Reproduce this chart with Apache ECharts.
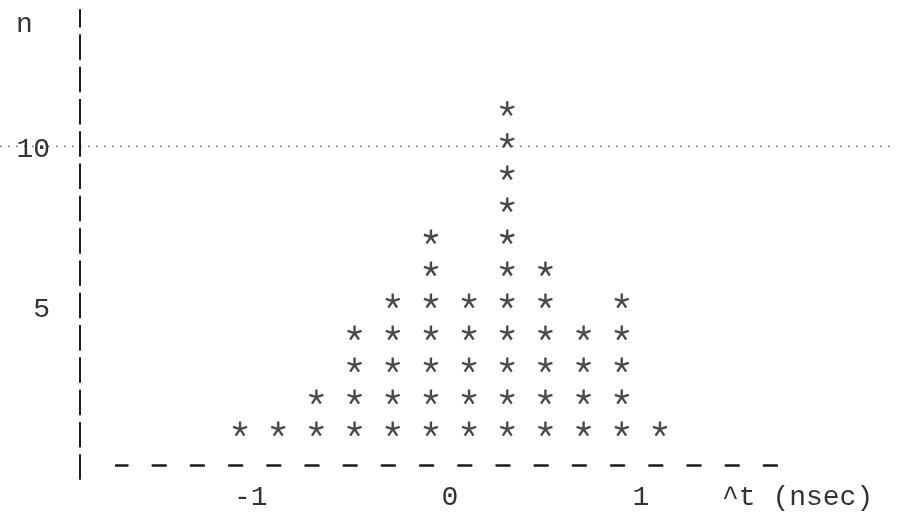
<!DOCTYPE html>
<html>
<head>
<meta charset="utf-8">
<script src="https://cdn.jsdelivr.net/npm/echarts@6/dist/echarts.min.js"></script>
<style>
  html, body { margin: 0; padding: 0; background: #fff; }
  #main { width: 900px; height: 512px; }
</style>
</head>
<body>
<div id="main"></div>
<script>
// bin centres (nsec) and the number of events in each bin
var binCenters = [-1.1, -0.9, -0.7, -0.5, -0.3, -0.1, 0.1, 0.3, 0.5, 0.7, 0.9, 1.1];
var counts = [1, 1, 2, 4, 5, 7, 5, 11, 6, 4, 5, 1];
var xTicks = [-1, 0, 1];
var yTicks = [5, 10];

var font = 'Liberation Mono';
var ink = '#1c1c1c';

// one star per event, stacked up each bin like the typed plot
var points = [];
binCenters.forEach(function (x, i) {
  for (var k = 1; k <= counts[i]; k++) points.push([x, k]);
});

// typewriter asterisk: five arms
var star = 'path://M0,-10L0,0M-9.5,-3L0,0M9.5,-3L0,0M-6,8.5L0,0M6,8.5L0,0';

var chart = echarts.init(document.getElementById('main'));
var option = {
  backgroundColor: '#fff',
  animation: false,
  title: {
    text: 'n', left: 11, top: 6,
    textStyle: { fontFamily: font, fontSize: 28, fontWeight: 'normal', color: '#333' }
  },
  grid: { left: 116, right: 116, top: 10, bottom: 29 },
  xAxis: {
    type: 'value', min: -1.75, max: 1.75,
    offset: -14,
    axisLine: { onZero: false, lineStyle: { color: ink, width: 2.5, type: [13, 25.2], dashOffset: 1.5 } },
    axisTick: { show: false },
    splitLine: { show: false },
    axisLabel: {
      customValues: xTicks,
      formatter: function (v) { return v < 0 ? v + ' ' : '' + v; },
      margin: 19, fontFamily: font, fontSize: 28, color: '#333'
    },
    name: '^t (nsec)',
    nameLocation: 'end',
    nameGap: -62,
    nameTextStyle: { fontFamily: font, fontSize: 28, color: '#333', align: 'left', verticalAlign: 'top', padding: [19, 0, 0, 0] }
  },
  yAxis: {
    type: 'value', min: -0.573, max: 14.07,
    offset: 36,
    axisLine: { show: true, onZero: false, lineStyle: { color: ink, width: 2, type: [24, 8.3] } },
    axisTick: { show: false },
    splitLine: { show: false },
    axisLabel: {
      customValues: yTicks,
      margin: 30, verticalAlign: 'top', lineHeight: 18,
      fontFamily: font, fontSize: 28, color: '#333'
    }
  },
  series: [{
    type: 'scatter',
    data: points,
    symbol: star,
    symbolSize: 14,
    itemStyle: { color: 'rgba(0,0,0,0)', borderColor: ink, borderWidth: 2.4 }
  }]
};
chart.setOption(option);

// dotted guide line at n = 10, running the full width like the original
var y10 = chart.convertToPixel({ yAxisIndex: 0 }, 10) + 6;
chart.setOption({
  graphic: [{
    type: 'line', z: -1,
    shape: { x1: 0, y1: y10, x2: 892, y2: y10 },
    style: { stroke: '#777', lineWidth: 1.5, lineDash: [1.5, 6.5] }
  }]
});

window.addEventListener('resize', function () { chart.resize(); });
</script>
</body>
</html>
